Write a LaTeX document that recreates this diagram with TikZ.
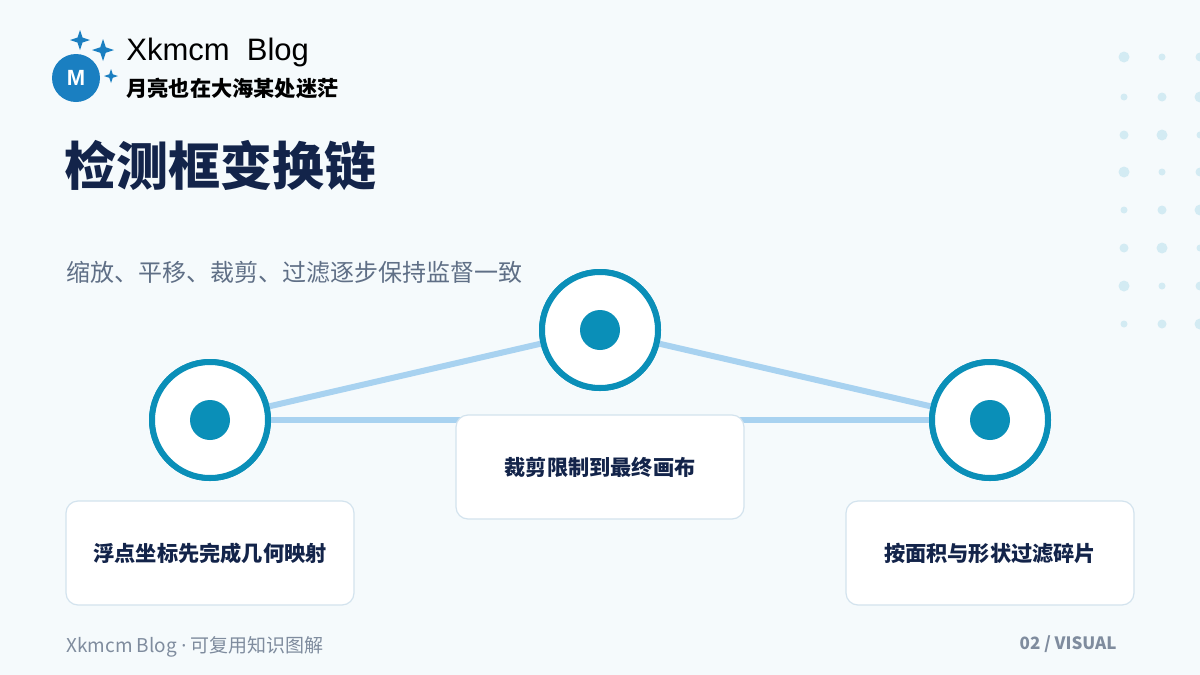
\documentclass[tikz,border=0pt]{standalone}
\usepackage{fontspec}
\setmainfont{Noto Sans CJK SC}
\newfontfamily\latinsans{Liberation Sans}
\newfontfamily\uisans{Noto Sans}
\usetikzlibrary{positioning}
\definecolor{bgc}{HTML}{F5FAFC}
\definecolor{navy}{HTML}{13244A}
\definecolor{teal}{HTML}{0A8FB8}
\definecolor{linkc}{HTML}{A8D2F0}
\definecolor{boxc}{HTML}{D3E3EE}
\definecolor{dotc}{HTML}{D3EBF3}
\definecolor{greyc}{HTML}{5F6F86}
\definecolor{logoc}{HTML}{1A7FC1}
\tikzset{
  ring/.style={circle, draw=teal, line width=3pt, fill=white, minimum size=58pt},
  hub/.style={circle, fill=teal, minimum size=20pt, inner sep=0pt},
  link/.style={draw=linkc, line width=3pt},
  card/.style={rectangle, rounded corners=6pt, draw=boxc, line width=0.6pt, fill=white,
    minimum width=144pt, minimum height=52pt, font=\fontsize{10.6}{12}\selectfont\bfseries, text=navy},
  spark/.style={fill=logoc}
}
\newcommand{\sparkat}[2]{\fill[spark] (#1) ++(0,-#2) -- ++(0.25*#2,0.75*#2) -- ++(0.75*#2,0.25*#2) -- ++(-0.75*#2,0.25*#2) -- ++(-0.25*#2,0.75*#2) -- ++(-0.25*#2,-0.75*#2) -- ++(-0.75*#2,-0.25*#2) -- ++(0.75*#2,-0.25*#2) -- cycle;}
\begin{document}
\begin{tikzpicture}[x=0.5pt, y=-0.5pt]
  % Background
  \fill[bgc] (0,0) rectangle (1200,675);
  \useasboundingbox (0,0) rectangle (1200,675);

  % Dot grid
  \foreach \r/\y in {0/57,1/97,2/135,3/172,4/210,5/248,6/286,7/324}
    \foreach \c/\x in {0/1124,1/1162,2/1200} {
      \pgfmathsetmacro{\rad}{mod(\r+\c,3)==0 ? 5.5 : (mod(\r+\c,3)==1 ? 3.5 : 4.5)}
      \fill[dotc] (\x,\y) circle (\rad);
    }

  % Logo
  \node[circle, fill=logoc, minimum size=24pt, inner sep=0pt, text=white,
    font=\latinsans\fontsize{11}{12}\selectfont\bfseries] (logo) at (76,78) {M};
  \sparkat{80,40}{10}
  \sparkat{103,50}{11}
  \sparkat{111,76}{7}
  \node[anchor=west, inner sep=0pt, font=\latinsans\fontsize{15.5}{17}\selectfont] (brand) at (126,52) {Xkmcm\ \ Blog};
  \node[anchor=west, inner sep=0pt, font=\fontsize{10.6}{12}\selectfont\bfseries] (motto) at (126,88) {月亮也在大海某处迷茫};

  % Title
  \node[anchor=west, inner sep=0pt, text=navy, font=\fontsize{26}{30}\selectfont\bfseries] (title) at (64,165) {检测框变换链};
  \node[anchor=west, inner sep=0pt, text=greyc, font=\fontsize{12}{14}\selectfont] (sub) at (66,272) {缩放、平移、裁剪、过滤逐步保持监督一致};

  % Stages
  \node[ring] (s1) at (210,420) {};
  \node[ring] (s2) at (600,330) {};
  \node[ring] (s3) at (990,420) {};
  \draw[link] (s1) -- (s2);
  \draw[link] (s2) -- (s3);
  \draw[link] (s1) -- (s3);
  \node[ring] at (s1) {};
  \node[ring] at (s2) {};
  \node[ring] at (s3) {};
  \node[hub] at (s1) {};
  \node[hub] at (s2) {};
  \node[hub] at (s3) {};

  % Cards
  \node[card] (c1) at (210,553) {浮点坐标先完成几何映射};
  \node[card] (c2) at (600,467) {裁剪限制到最终画布};
  \node[card] (c3) at (990,553) {按面积与形状过滤碎片};

  % Footer
  \node[anchor=west, inner sep=0pt, text=greyc!80, font=\fontsize{9.5}{11}\selectfont] (foot) at (66,647) {Xkmcm Blog {\uisans ·} 可复用知识图解};
  \node[anchor=east, inner sep=0pt, text=greyc!80, font=\fontsize{8.5}{10}\selectfont\bfseries] (page) at (1117,644) {02 / VISUAL};
\end{tikzpicture}
\end{document}
